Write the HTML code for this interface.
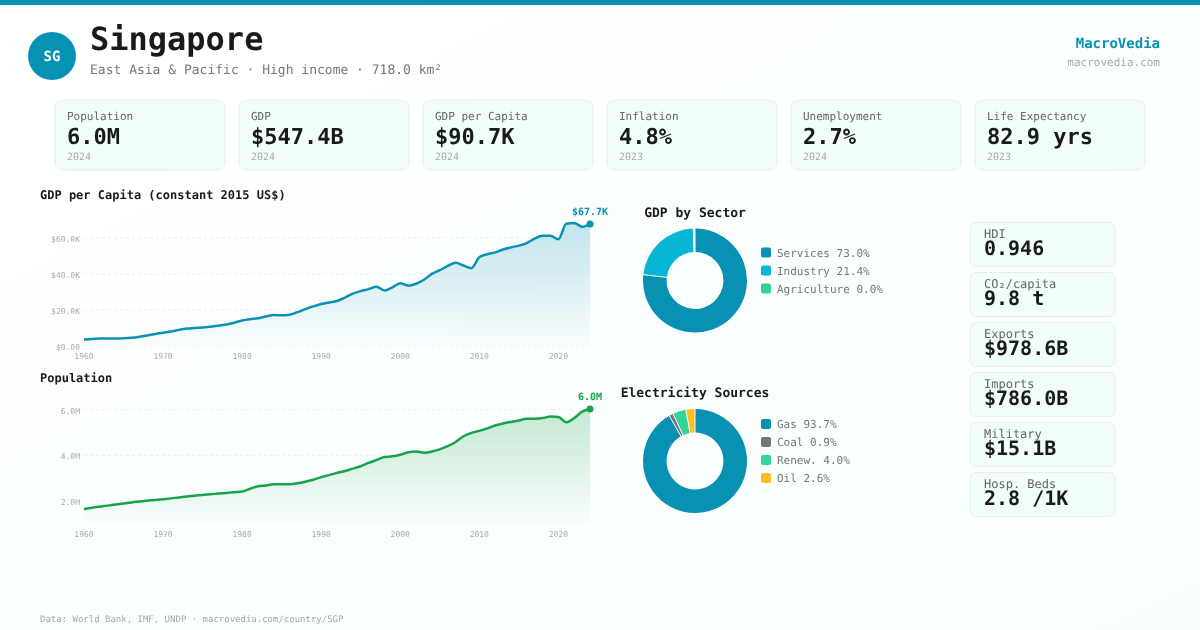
<!DOCTYPE html>
<html lang="en"><head><meta charset="utf-8"><title>Singapore — MacroVedia</title>
<style>
*{margin:0;padding:0;box-sizing:border-box}
html,body{width:1200px;height:630px;overflow:hidden}
body{font-family:"DejaVu Sans Mono","Liberation Mono",monospace;background:linear-gradient(to bottom right,#ffffff 0%,#f8fefe 100%);color:#1a1a1a}
svg{display:block;position:absolute;left:0;top:0}
svg text{font-family:"DejaVu Sans Mono","Liberation Mono",monospace;text-rendering:geometricPrecision;white-space:pre}
</style></head><body>
<svg width="1200" height="630" viewBox="0 0 1200 630">
<rect x="0" y="0" width="1200" height="5" fill="#0891b2"/>
<circle cx="52" cy="56" r="24" fill="#0891b2"/>
<text x="52" y="61" font-size="14" fill="#ffffff" font-weight="bold" text-anchor="middle">SG</text>
<text x="90" y="50" font-size="32" fill="#1a1a1a" font-weight="bold">Singapore</text>
<text x="90" y="74" font-size="13" fill="#777">East Asia &amp; Pacific · High income · 718.0 km²</text>
<text x="1160" y="48" font-size="14" fill="#0891b2" font-weight="bold" text-anchor="end">MacroVedia</text>
<text x="1160" y="66" font-size="11" fill="#a8a8a8" text-anchor="end">macrovedia.com</text>
<rect x="55" y="100" width="170" height="70" rx="8" fill="#f0fdfa" stroke="#e9eded" stroke-width="1"/>
<text x="67" y="120" font-size="11" fill="#666">Population</text>
<text x="67" y="144" font-size="22" fill="#1a1a1a" font-weight="bold">6.0M</text>
<text x="67" y="160" font-size="10" fill="#aaa">2024</text>
<rect x="239" y="100" width="170" height="70" rx="8" fill="#f0fdfa" stroke="#e9eded" stroke-width="1"/>
<text x="251" y="120" font-size="11" fill="#666">GDP</text>
<text x="251" y="144" font-size="22" fill="#1a1a1a" font-weight="bold">$547.4B</text>
<text x="251" y="160" font-size="10" fill="#aaa">2024</text>
<rect x="423" y="100" width="170" height="70" rx="8" fill="#f0fdfa" stroke="#e9eded" stroke-width="1"/>
<text x="435" y="120" font-size="11" fill="#666">GDP per Capita</text>
<text x="435" y="144" font-size="22" fill="#1a1a1a" font-weight="bold">$90.7K</text>
<text x="435" y="160" font-size="10" fill="#aaa">2024</text>
<rect x="607" y="100" width="170" height="70" rx="8" fill="#f0fdfa" stroke="#e9eded" stroke-width="1"/>
<text x="619" y="120" font-size="11" fill="#666">Inflation</text>
<text x="619" y="144" font-size="22" fill="#1a1a1a" font-weight="bold">4.8%</text>
<text x="619" y="160" font-size="10" fill="#aaa">2023</text>
<rect x="791" y="100" width="170" height="70" rx="8" fill="#f0fdfa" stroke="#e9eded" stroke-width="1"/>
<text x="803" y="120" font-size="11" fill="#666">Unemployment</text>
<text x="803" y="144" font-size="22" fill="#1a1a1a" font-weight="bold">2.7%</text>
<text x="803" y="160" font-size="10" fill="#aaa">2024</text>
<rect x="975" y="100" width="170" height="70" rx="8" fill="#f0fdfa" stroke="#e9eded" stroke-width="1"/>
<text x="987" y="120" font-size="11" fill="#666">Life Expectancy</text>
<text x="987" y="144" font-size="22" fill="#1a1a1a" font-weight="bold">82.9 yrs</text>
<text x="987" y="160" font-size="10" fill="#aaa">2023</text>
<text x="40" y="199" font-size="12" fill="#1a1a1a" font-weight="bold">GDP per Capita (constant 2015 US$)</text>
<text x="40" y="382" font-size="12" fill="#1a1a1a" font-weight="bold">Population</text>
<defs><linearGradient id="ga" x1="0" y1="0" x2="0" y2="1"><stop offset="0" stop-color="#0891b2" stop-opacity="0.24"/><stop offset="1" stop-color="#0891b2" stop-opacity="0.01"/></linearGradient></defs>
<line x1="84" y1="238" x2="590" y2="238" stroke="#ebebeb" stroke-width="1" stroke-dasharray="3 3"/>
<text x="80" y="242" font-size="8" fill="#a8a8a8" text-anchor="end">$60.0K</text>
<line x1="84" y1="274" x2="590" y2="274" stroke="#ebebeb" stroke-width="1" stroke-dasharray="3 3"/>
<text x="80" y="278" font-size="8" fill="#a8a8a8" text-anchor="end">$40.0K</text>
<line x1="84" y1="310" x2="590" y2="310" stroke="#ebebeb" stroke-width="1" stroke-dasharray="3 3"/>
<text x="80" y="314" font-size="8" fill="#a8a8a8" text-anchor="end">$20.0K</text>
<line x1="84" y1="346" x2="590" y2="346" stroke="#ebebeb" stroke-width="1" stroke-dasharray="3 3"/>
<text x="80" y="350" font-size="8" fill="#a8a8a8" text-anchor="end">$0.00</text>
<path d="M84.00,339.39C86.64,339.26 89.27,339.13 91.91,339.00C94.54,338.87 97.18,338.70 99.81,338.60C102.45,338.51 105.08,338.42 107.72,338.42C110.35,338.42 112.99,338.62 115.62,338.62C118.26,338.62 120.90,338.51 123.53,338.37C126.17,338.22 128.80,338.03 131.44,337.76C134.07,337.48 136.71,337.09 139.34,336.69C141.98,336.30 144.61,335.85 147.25,335.40C149.89,334.95 152.52,334.44 155.16,333.99C157.79,333.54 160.43,333.11 163.06,332.70C165.70,332.28 168.33,331.98 170.97,331.51C173.60,331.04 176.24,330.38 178.88,329.89C181.51,329.40 184.15,328.89 186.78,328.59C189.42,328.29 192.05,328.27 194.69,328.09C197.32,327.91 199.96,327.73 202.59,327.50C205.23,327.26 207.86,326.96 210.50,326.67C213.14,326.38 215.77,326.11 218.41,325.75C221.04,325.39 223.68,325.02 226.31,324.51C228.95,324.00 231.58,323.35 234.22,322.67C236.85,321.99 239.49,321.02 242.12,320.44C244.76,319.86 247.40,319.53 250.03,319.18C252.67,318.83 255.30,318.78 257.94,318.33C260.57,317.88 263.21,317.03 265.84,316.48C268.48,315.93 271.11,315.04 273.75,315.04C276.39,315.04 279.02,315.22 281.66,315.22C284.29,315.22 286.93,315.04 289.56,314.68C292.20,314.32 294.83,313.09 297.47,312.16C300.10,311.23 302.74,310.06 305.38,309.10C308.01,308.14 310.65,307.24 313.28,306.40C315.92,305.56 318.55,304.72 321.19,304.06C323.82,303.40 326.46,302.95 329.09,302.44C331.73,301.93 334.36,301.81 337.00,301.00C339.64,300.19 342.27,298.79 344.91,297.58C347.54,296.37 350.18,294.79 352.81,293.71C355.45,292.63 358.08,291.87 360.72,291.10C363.35,290.34 365.99,289.84 368.62,289.12C371.26,288.40 373.90,286.78 376.53,286.78C379.17,286.78 381.80,290.38 384.44,290.38C387.07,290.38 389.71,288.52 392.34,287.32C394.98,286.12 397.61,283.18 400.25,283.18C402.89,283.18 405.52,285.70 408.16,285.70C410.79,285.70 413.43,284.71 416.06,283.72C418.70,282.73 421.33,281.41 423.97,279.76C426.60,278.11 429.24,275.41 431.88,273.82C434.51,272.23 437.15,271.53 439.78,270.22C442.42,268.92 445.05,267.22 447.69,265.99C450.32,264.76 452.96,262.84 455.59,262.84C458.23,262.84 460.86,264.64 463.50,265.54C466.14,266.44 468.77,268.24 471.41,268.24C474.04,268.24 476.68,259.30 479.31,257.26C481.95,255.22 484.58,255.01 487.22,254.20C489.85,253.39 492.49,253.18 495.12,252.40C497.76,251.62 500.40,250.36 503.03,249.52C505.67,248.68 508.30,248.01 510.94,247.36C513.57,246.72 516.21,246.37 518.84,245.65C521.48,244.93 524.11,244.21 526.75,243.04C529.39,241.87 532.02,239.83 534.66,238.63C537.29,237.43 539.93,235.84 542.56,235.84C545.20,235.84 547.83,235.84 550.47,235.84C553.10,235.84 555.74,239.26 558.38,239.26C561.01,239.26 563.65,224.38 566.28,223.78C568.92,223.18 571.55,222.88 574.19,222.88C576.82,222.88 579.46,226.84 582.09,226.84C584.73,226.84 587.36,225.49 590.00,224.14L590.00,346.00 L84.00,346.00 Z" fill="#fcfefe" fill-opacity="0.6"/>
<path d="M84.00,339.39C86.64,339.26 89.27,339.13 91.91,339.00C94.54,338.87 97.18,338.70 99.81,338.60C102.45,338.51 105.08,338.42 107.72,338.42C110.35,338.42 112.99,338.62 115.62,338.62C118.26,338.62 120.90,338.51 123.53,338.37C126.17,338.22 128.80,338.03 131.44,337.76C134.07,337.48 136.71,337.09 139.34,336.69C141.98,336.30 144.61,335.85 147.25,335.40C149.89,334.95 152.52,334.44 155.16,333.99C157.79,333.54 160.43,333.11 163.06,332.70C165.70,332.28 168.33,331.98 170.97,331.51C173.60,331.04 176.24,330.38 178.88,329.89C181.51,329.40 184.15,328.89 186.78,328.59C189.42,328.29 192.05,328.27 194.69,328.09C197.32,327.91 199.96,327.73 202.59,327.50C205.23,327.26 207.86,326.96 210.50,326.67C213.14,326.38 215.77,326.11 218.41,325.75C221.04,325.39 223.68,325.02 226.31,324.51C228.95,324.00 231.58,323.35 234.22,322.67C236.85,321.99 239.49,321.02 242.12,320.44C244.76,319.86 247.40,319.53 250.03,319.18C252.67,318.83 255.30,318.78 257.94,318.33C260.57,317.88 263.21,317.03 265.84,316.48C268.48,315.93 271.11,315.04 273.75,315.04C276.39,315.04 279.02,315.22 281.66,315.22C284.29,315.22 286.93,315.04 289.56,314.68C292.20,314.32 294.83,313.09 297.47,312.16C300.10,311.23 302.74,310.06 305.38,309.10C308.01,308.14 310.65,307.24 313.28,306.40C315.92,305.56 318.55,304.72 321.19,304.06C323.82,303.40 326.46,302.95 329.09,302.44C331.73,301.93 334.36,301.81 337.00,301.00C339.64,300.19 342.27,298.79 344.91,297.58C347.54,296.37 350.18,294.79 352.81,293.71C355.45,292.63 358.08,291.87 360.72,291.10C363.35,290.34 365.99,289.84 368.62,289.12C371.26,288.40 373.90,286.78 376.53,286.78C379.17,286.78 381.80,290.38 384.44,290.38C387.07,290.38 389.71,288.52 392.34,287.32C394.98,286.12 397.61,283.18 400.25,283.18C402.89,283.18 405.52,285.70 408.16,285.70C410.79,285.70 413.43,284.71 416.06,283.72C418.70,282.73 421.33,281.41 423.97,279.76C426.60,278.11 429.24,275.41 431.88,273.82C434.51,272.23 437.15,271.53 439.78,270.22C442.42,268.92 445.05,267.22 447.69,265.99C450.32,264.76 452.96,262.84 455.59,262.84C458.23,262.84 460.86,264.64 463.50,265.54C466.14,266.44 468.77,268.24 471.41,268.24C474.04,268.24 476.68,259.30 479.31,257.26C481.95,255.22 484.58,255.01 487.22,254.20C489.85,253.39 492.49,253.18 495.12,252.40C497.76,251.62 500.40,250.36 503.03,249.52C505.67,248.68 508.30,248.01 510.94,247.36C513.57,246.72 516.21,246.37 518.84,245.65C521.48,244.93 524.11,244.21 526.75,243.04C529.39,241.87 532.02,239.83 534.66,238.63C537.29,237.43 539.93,235.84 542.56,235.84C545.20,235.84 547.83,235.84 550.47,235.84C553.10,235.84 555.74,239.26 558.38,239.26C561.01,239.26 563.65,224.38 566.28,223.78C568.92,223.18 571.55,222.88 574.19,222.88C576.82,222.88 579.46,226.84 582.09,226.84C584.73,226.84 587.36,225.49 590.00,224.14L590.00,346.00 L84.00,346.00 Z" fill="url(#ga)"/>
<path d="M84.00,339.39C86.64,339.26 89.27,339.13 91.91,339.00C94.54,338.87 97.18,338.70 99.81,338.60C102.45,338.51 105.08,338.42 107.72,338.42C110.35,338.42 112.99,338.62 115.62,338.62C118.26,338.62 120.90,338.51 123.53,338.37C126.17,338.22 128.80,338.03 131.44,337.76C134.07,337.48 136.71,337.09 139.34,336.69C141.98,336.30 144.61,335.85 147.25,335.40C149.89,334.95 152.52,334.44 155.16,333.99C157.79,333.54 160.43,333.11 163.06,332.70C165.70,332.28 168.33,331.98 170.97,331.51C173.60,331.04 176.24,330.38 178.88,329.89C181.51,329.40 184.15,328.89 186.78,328.59C189.42,328.29 192.05,328.27 194.69,328.09C197.32,327.91 199.96,327.73 202.59,327.50C205.23,327.26 207.86,326.96 210.50,326.67C213.14,326.38 215.77,326.11 218.41,325.75C221.04,325.39 223.68,325.02 226.31,324.51C228.95,324.00 231.58,323.35 234.22,322.67C236.85,321.99 239.49,321.02 242.12,320.44C244.76,319.86 247.40,319.53 250.03,319.18C252.67,318.83 255.30,318.78 257.94,318.33C260.57,317.88 263.21,317.03 265.84,316.48C268.48,315.93 271.11,315.04 273.75,315.04C276.39,315.04 279.02,315.22 281.66,315.22C284.29,315.22 286.93,315.04 289.56,314.68C292.20,314.32 294.83,313.09 297.47,312.16C300.10,311.23 302.74,310.06 305.38,309.10C308.01,308.14 310.65,307.24 313.28,306.40C315.92,305.56 318.55,304.72 321.19,304.06C323.82,303.40 326.46,302.95 329.09,302.44C331.73,301.93 334.36,301.81 337.00,301.00C339.64,300.19 342.27,298.79 344.91,297.58C347.54,296.37 350.18,294.79 352.81,293.71C355.45,292.63 358.08,291.87 360.72,291.10C363.35,290.34 365.99,289.84 368.62,289.12C371.26,288.40 373.90,286.78 376.53,286.78C379.17,286.78 381.80,290.38 384.44,290.38C387.07,290.38 389.71,288.52 392.34,287.32C394.98,286.12 397.61,283.18 400.25,283.18C402.89,283.18 405.52,285.70 408.16,285.70C410.79,285.70 413.43,284.71 416.06,283.72C418.70,282.73 421.33,281.41 423.97,279.76C426.60,278.11 429.24,275.41 431.88,273.82C434.51,272.23 437.15,271.53 439.78,270.22C442.42,268.92 445.05,267.22 447.69,265.99C450.32,264.76 452.96,262.84 455.59,262.84C458.23,262.84 460.86,264.64 463.50,265.54C466.14,266.44 468.77,268.24 471.41,268.24C474.04,268.24 476.68,259.30 479.31,257.26C481.95,255.22 484.58,255.01 487.22,254.20C489.85,253.39 492.49,253.18 495.12,252.40C497.76,251.62 500.40,250.36 503.03,249.52C505.67,248.68 508.30,248.01 510.94,247.36C513.57,246.72 516.21,246.37 518.84,245.65C521.48,244.93 524.11,244.21 526.75,243.04C529.39,241.87 532.02,239.83 534.66,238.63C537.29,237.43 539.93,235.84 542.56,235.84C545.20,235.84 547.83,235.84 550.47,235.84C553.10,235.84 555.74,239.26 558.38,239.26C561.01,239.26 563.65,224.38 566.28,223.78C568.92,223.18 571.55,222.88 574.19,222.88C576.82,222.88 579.46,226.84 582.09,226.84C584.73,226.84 587.36,225.49 590.00,224.14" fill="none" stroke="#0891b2" stroke-width="2.5" stroke-linejoin="round"/>
<text x="84" y="359" font-size="8" fill="#a8a8a8" text-anchor="middle">1960</text>
<text x="163.06" y="359" font-size="8" fill="#a8a8a8" text-anchor="middle">1970</text>
<text x="242.12" y="359" font-size="8" fill="#a8a8a8" text-anchor="middle">1980</text>
<text x="321.19" y="359" font-size="8" fill="#a8a8a8" text-anchor="middle">1990</text>
<text x="400.25" y="359" font-size="8" fill="#a8a8a8" text-anchor="middle">2000</text>
<text x="479.31" y="359" font-size="8" fill="#a8a8a8" text-anchor="middle">2010</text>
<text x="558.38" y="359" font-size="8" fill="#a8a8a8" text-anchor="middle">2020</text>
<circle cx="590.0" cy="224.1" r="3.5" fill="#0891b2"/>
<text x="590" y="215" font-size="10" fill="#0891b2" font-weight="bold" text-anchor="middle">$67.7K</text>
<defs><linearGradient id="gb" x1="0" y1="0" x2="0" y2="1"><stop offset="0" stop-color="#16a34a" stop-opacity="0.24"/><stop offset="1" stop-color="#16a34a" stop-opacity="0.01"/></linearGradient></defs>
<line x1="84" y1="409.8" x2="590" y2="409.8" stroke="#eeeeee" stroke-width="1" stroke-dasharray="3 3"/>
<text x="80" y="414" font-size="8" fill="#a8a8a8" text-anchor="end">6.0M</text>
<line x1="84" y1="455.4" x2="590" y2="455.4" stroke="#eeeeee" stroke-width="1" stroke-dasharray="3 3"/>
<text x="80" y="459" font-size="8" fill="#a8a8a8" text-anchor="end">4.0M</text>
<line x1="84" y1="501" x2="590" y2="501" stroke="#eeeeee" stroke-width="1" stroke-dasharray="3 3"/>
<text x="80" y="505" font-size="8" fill="#a8a8a8" text-anchor="end">2.0M</text>
<path d="M84.00,509.00C86.64,508.56 89.27,508.12 91.91,507.73C94.54,507.33 97.18,506.99 99.81,506.64C102.45,506.29 105.08,505.96 107.72,505.62C110.35,505.27 112.99,504.90 115.62,504.55C118.26,504.21 120.90,503.88 123.53,503.52C126.17,503.17 128.80,502.79 131.44,502.44C134.07,502.10 136.71,501.75 139.34,501.46C141.98,501.16 144.61,500.92 147.25,500.67C149.89,500.43 152.52,500.22 155.16,499.98C157.79,499.74 160.43,499.52 163.06,499.25C165.70,498.98 168.33,498.67 170.97,498.37C173.60,498.08 176.24,497.78 178.88,497.47C181.51,497.17 184.15,496.84 186.78,496.55C189.42,496.26 192.05,495.98 194.69,495.71C197.32,495.45 199.96,495.21 202.59,494.96C205.23,494.72 207.86,494.50 210.50,494.27C213.14,494.03 215.77,493.77 218.41,493.54C221.04,493.31 223.68,493.11 226.31,492.89C228.95,492.67 231.58,492.44 234.22,492.21C236.85,491.98 239.49,491.98 242.12,491.52C244.76,491.06 247.40,489.69 250.03,488.81C252.67,487.93 255.30,486.74 257.94,486.22C260.57,485.69 263.21,485.76 265.84,485.43C268.48,485.11 271.11,484.32 273.75,484.27C276.39,484.21 279.02,484.18 281.66,484.18C284.29,484.18 286.93,484.24 289.56,484.24C292.20,484.24 294.83,483.72 297.47,483.30C300.10,482.87 302.74,482.27 305.38,481.67C308.01,481.08 310.65,480.50 313.28,479.74C315.92,478.98 318.55,477.87 321.19,477.09C323.82,476.32 326.46,475.79 329.09,475.09C331.73,474.39 334.36,473.59 337.00,472.91C339.64,472.23 342.27,471.74 344.91,471.03C347.54,470.31 350.18,469.42 352.81,468.62C355.45,467.82 358.08,467.17 360.72,466.22C363.35,465.26 365.99,463.92 368.62,462.89C371.26,461.86 373.90,461.01 376.53,460.03C379.17,459.06 381.80,457.52 384.44,457.05C387.07,456.57 389.71,456.71 392.34,456.33C394.98,455.95 397.61,455.43 400.25,454.75C402.89,454.07 405.52,452.81 408.16,452.24C410.79,451.68 413.43,451.38 416.06,451.38C418.70,451.38 421.33,452.77 423.97,452.77C426.60,452.77 429.24,452.16 431.88,451.59C434.51,451.02 437.15,450.22 439.78,449.33C442.42,448.44 445.05,447.47 447.69,446.24C450.32,445.02 452.96,443.64 455.59,441.98C458.23,440.32 460.86,437.78 463.50,436.27C466.14,434.75 468.77,433.79 471.41,432.89C474.04,431.99 476.68,431.60 479.31,430.86C481.95,430.11 484.58,429.32 487.22,428.42C489.85,427.53 492.49,426.31 495.12,425.49C497.76,424.67 500.40,424.11 503.03,423.51C505.67,422.92 508.30,422.42 510.94,421.91C513.57,421.39 516.21,420.94 518.84,420.42C521.48,419.90 524.11,418.85 526.75,418.77C529.39,418.70 532.02,418.73 534.66,418.66C537.29,418.58 539.93,418.40 542.56,418.06C545.20,417.71 547.83,416.58 550.47,416.58C553.10,416.58 555.74,416.71 558.38,416.98C561.01,417.25 563.65,422.27 566.28,422.27C568.92,422.27 571.55,419.86 574.19,418.10C576.82,416.33 579.46,413.22 582.09,411.70C584.73,410.19 587.36,409.59 590.00,408.99L590.00,524.00 L84.00,524.00 Z" fill="#fcfefe" fill-opacity="0.6"/>
<path d="M84.00,509.00C86.64,508.56 89.27,508.12 91.91,507.73C94.54,507.33 97.18,506.99 99.81,506.64C102.45,506.29 105.08,505.96 107.72,505.62C110.35,505.27 112.99,504.90 115.62,504.55C118.26,504.21 120.90,503.88 123.53,503.52C126.17,503.17 128.80,502.79 131.44,502.44C134.07,502.10 136.71,501.75 139.34,501.46C141.98,501.16 144.61,500.92 147.25,500.67C149.89,500.43 152.52,500.22 155.16,499.98C157.79,499.74 160.43,499.52 163.06,499.25C165.70,498.98 168.33,498.67 170.97,498.37C173.60,498.08 176.24,497.78 178.88,497.47C181.51,497.17 184.15,496.84 186.78,496.55C189.42,496.26 192.05,495.98 194.69,495.71C197.32,495.45 199.96,495.21 202.59,494.96C205.23,494.72 207.86,494.50 210.50,494.27C213.14,494.03 215.77,493.77 218.41,493.54C221.04,493.31 223.68,493.11 226.31,492.89C228.95,492.67 231.58,492.44 234.22,492.21C236.85,491.98 239.49,491.98 242.12,491.52C244.76,491.06 247.40,489.69 250.03,488.81C252.67,487.93 255.30,486.74 257.94,486.22C260.57,485.69 263.21,485.76 265.84,485.43C268.48,485.11 271.11,484.32 273.75,484.27C276.39,484.21 279.02,484.18 281.66,484.18C284.29,484.18 286.93,484.24 289.56,484.24C292.20,484.24 294.83,483.72 297.47,483.30C300.10,482.87 302.74,482.27 305.38,481.67C308.01,481.08 310.65,480.50 313.28,479.74C315.92,478.98 318.55,477.87 321.19,477.09C323.82,476.32 326.46,475.79 329.09,475.09C331.73,474.39 334.36,473.59 337.00,472.91C339.64,472.23 342.27,471.74 344.91,471.03C347.54,470.31 350.18,469.42 352.81,468.62C355.45,467.82 358.08,467.17 360.72,466.22C363.35,465.26 365.99,463.92 368.62,462.89C371.26,461.86 373.90,461.01 376.53,460.03C379.17,459.06 381.80,457.52 384.44,457.05C387.07,456.57 389.71,456.71 392.34,456.33C394.98,455.95 397.61,455.43 400.25,454.75C402.89,454.07 405.52,452.81 408.16,452.24C410.79,451.68 413.43,451.38 416.06,451.38C418.70,451.38 421.33,452.77 423.97,452.77C426.60,452.77 429.24,452.16 431.88,451.59C434.51,451.02 437.15,450.22 439.78,449.33C442.42,448.44 445.05,447.47 447.69,446.24C450.32,445.02 452.96,443.64 455.59,441.98C458.23,440.32 460.86,437.78 463.50,436.27C466.14,434.75 468.77,433.79 471.41,432.89C474.04,431.99 476.68,431.60 479.31,430.86C481.95,430.11 484.58,429.32 487.22,428.42C489.85,427.53 492.49,426.31 495.12,425.49C497.76,424.67 500.40,424.11 503.03,423.51C505.67,422.92 508.30,422.42 510.94,421.91C513.57,421.39 516.21,420.94 518.84,420.42C521.48,419.90 524.11,418.85 526.75,418.77C529.39,418.70 532.02,418.73 534.66,418.66C537.29,418.58 539.93,418.40 542.56,418.06C545.20,417.71 547.83,416.58 550.47,416.58C553.10,416.58 555.74,416.71 558.38,416.98C561.01,417.25 563.65,422.27 566.28,422.27C568.92,422.27 571.55,419.86 574.19,418.10C576.82,416.33 579.46,413.22 582.09,411.70C584.73,410.19 587.36,409.59 590.00,408.99L590.00,524.00 L84.00,524.00 Z" fill="url(#gb)"/>
<path d="M84.00,509.00C86.64,508.56 89.27,508.12 91.91,507.73C94.54,507.33 97.18,506.99 99.81,506.64C102.45,506.29 105.08,505.96 107.72,505.62C110.35,505.27 112.99,504.90 115.62,504.55C118.26,504.21 120.90,503.88 123.53,503.52C126.17,503.17 128.80,502.79 131.44,502.44C134.07,502.10 136.71,501.75 139.34,501.46C141.98,501.16 144.61,500.92 147.25,500.67C149.89,500.43 152.52,500.22 155.16,499.98C157.79,499.74 160.43,499.52 163.06,499.25C165.70,498.98 168.33,498.67 170.97,498.37C173.60,498.08 176.24,497.78 178.88,497.47C181.51,497.17 184.15,496.84 186.78,496.55C189.42,496.26 192.05,495.98 194.69,495.71C197.32,495.45 199.96,495.21 202.59,494.96C205.23,494.72 207.86,494.50 210.50,494.27C213.14,494.03 215.77,493.77 218.41,493.54C221.04,493.31 223.68,493.11 226.31,492.89C228.95,492.67 231.58,492.44 234.22,492.21C236.85,491.98 239.49,491.98 242.12,491.52C244.76,491.06 247.40,489.69 250.03,488.81C252.67,487.93 255.30,486.74 257.94,486.22C260.57,485.69 263.21,485.76 265.84,485.43C268.48,485.11 271.11,484.32 273.75,484.27C276.39,484.21 279.02,484.18 281.66,484.18C284.29,484.18 286.93,484.24 289.56,484.24C292.20,484.24 294.83,483.72 297.47,483.30C300.10,482.87 302.74,482.27 305.38,481.67C308.01,481.08 310.65,480.50 313.28,479.74C315.92,478.98 318.55,477.87 321.19,477.09C323.82,476.32 326.46,475.79 329.09,475.09C331.73,474.39 334.36,473.59 337.00,472.91C339.64,472.23 342.27,471.74 344.91,471.03C347.54,470.31 350.18,469.42 352.81,468.62C355.45,467.82 358.08,467.17 360.72,466.22C363.35,465.26 365.99,463.92 368.62,462.89C371.26,461.86 373.90,461.01 376.53,460.03C379.17,459.06 381.80,457.52 384.44,457.05C387.07,456.57 389.71,456.71 392.34,456.33C394.98,455.95 397.61,455.43 400.25,454.75C402.89,454.07 405.52,452.81 408.16,452.24C410.79,451.68 413.43,451.38 416.06,451.38C418.70,451.38 421.33,452.77 423.97,452.77C426.60,452.77 429.24,452.16 431.88,451.59C434.51,451.02 437.15,450.22 439.78,449.33C442.42,448.44 445.05,447.47 447.69,446.24C450.32,445.02 452.96,443.64 455.59,441.98C458.23,440.32 460.86,437.78 463.50,436.27C466.14,434.75 468.77,433.79 471.41,432.89C474.04,431.99 476.68,431.60 479.31,430.86C481.95,430.11 484.58,429.32 487.22,428.42C489.85,427.53 492.49,426.31 495.12,425.49C497.76,424.67 500.40,424.11 503.03,423.51C505.67,422.92 508.30,422.42 510.94,421.91C513.57,421.39 516.21,420.94 518.84,420.42C521.48,419.90 524.11,418.85 526.75,418.77C529.39,418.70 532.02,418.73 534.66,418.66C537.29,418.58 539.93,418.40 542.56,418.06C545.20,417.71 547.83,416.58 550.47,416.58C553.10,416.58 555.74,416.71 558.38,416.98C561.01,417.25 563.65,422.27 566.28,422.27C568.92,422.27 571.55,419.86 574.19,418.10C576.82,416.33 579.46,413.22 582.09,411.70C584.73,410.19 587.36,409.59 590.00,408.99" fill="none" stroke="#16a34a" stroke-width="2.5" stroke-linejoin="round"/>
<text x="84" y="537" font-size="8" fill="#a8a8a8" text-anchor="middle">1960</text>
<text x="163.06" y="537" font-size="8" fill="#a8a8a8" text-anchor="middle">1970</text>
<text x="242.12" y="537" font-size="8" fill="#a8a8a8" text-anchor="middle">1980</text>
<text x="321.19" y="537" font-size="8" fill="#a8a8a8" text-anchor="middle">1990</text>
<text x="400.25" y="537" font-size="8" fill="#a8a8a8" text-anchor="middle">2000</text>
<text x="479.31" y="537" font-size="8" fill="#a8a8a8" text-anchor="middle">2010</text>
<text x="558.38" y="537" font-size="8" fill="#a8a8a8" text-anchor="middle">2020</text>
<circle cx="590.0" cy="409.0" r="3.5" fill="#16a34a"/>
<text x="590" y="400" font-size="10" fill="#16a34a" font-weight="bold" text-anchor="middle">6.0M</text>
<text x="695" y="217" font-size="13" fill="#1a1a1a" font-weight="bold" text-anchor="middle">GDP by Sector</text>
<text x="695" y="397" font-size="13" fill="#1a1a1a" font-weight="bold" text-anchor="middle">Electricity Sources</text>
<path d="M695.00,228.50 A52,52 0 1 1 643.32,274.70 L666.78,277.33 A28.4,28.4 0 1 0 695.00,252.10 Z" fill="#0891b2"/>
<path d="M643.32,274.70 A52,52 0 0 1 693.28,228.53 L694.06,252.12 A28.4,28.4 0 0 0 666.78,277.33 Z" fill="#06b6d4"/>
<line x1="695.00" y1="253.10" x2="695.00" y2="227.50" stroke="#fdffff" stroke-width="1"/>
<line x1="667.77" y1="277.45" x2="642.33" y2="274.59" stroke="#fdffff" stroke-width="1"/>
<line x1="694.09" y1="253.12" x2="693.24" y2="227.53" stroke="#fdffff" stroke-width="1"/>
<path d="M695.00,409.00 A52,52 0 1 1 669.32,415.79 L680.97,436.31 A28.4,28.4 0 1 0 695.00,432.60 Z" fill="#0891b2"/>
<path d="M669.32,415.79 A52,52 0 0 1 673.02,413.87 L683.00,435.26 A28.4,28.4 0 0 0 680.97,436.31 Z" fill="#757575"/>
<path d="M673.02,413.87 A52,52 0 0 1 685.88,409.81 L690.02,433.04 A28.4,28.4 0 0 0 683.00,435.26 Z" fill="#34d399"/>
<path d="M685.88,409.81 A52,52 0 0 1 695.00,409.00 L695.00,432.60 A28.4,28.4 0 0 0 690.02,433.04 Z" fill="#fbbf24"/>
<line x1="695.00" y1="433.60" x2="695.00" y2="408.00" stroke="#fdffff" stroke-width="1"/>
<line x1="681.47" y1="437.18" x2="668.82" y2="414.92" stroke="#fdffff" stroke-width="1"/>
<line x1="683.42" y1="436.17" x2="672.60" y2="412.97" stroke="#fdffff" stroke-width="1"/>
<line x1="690.19" y1="434.02" x2="685.71" y2="408.82" stroke="#fdffff" stroke-width="1"/>
<rect x="761" y="247.5" width="10" height="10" rx="2" fill="#0891b2"/>
<text x="777" y="257" font-size="11" fill="#777">Services 73.0%</text>
<rect x="761" y="265.5" width="10" height="10" rx="2" fill="#06b6d4"/>
<text x="777" y="275" font-size="11" fill="#777">Industry 21.4%</text>
<rect x="761" y="283.5" width="10" height="10" rx="2" fill="#34d399"/>
<text x="777" y="293" font-size="11" fill="#777">Agriculture 0.0%</text>
<rect x="761" y="419" width="10" height="10" rx="2" fill="#0891b2"/>
<text x="777" y="428" font-size="11" fill="#777">Gas 93.7%</text>
<rect x="761" y="437" width="10" height="10" rx="2" fill="#757575"/>
<text x="777" y="446" font-size="11" fill="#777">Coal 0.9%</text>
<rect x="761" y="455" width="10" height="10" rx="2" fill="#34d399"/>
<text x="777" y="464" font-size="11" fill="#777">Renew. 4.0%</text>
<rect x="761" y="473" width="10" height="10" rx="2" fill="#fbbf24"/>
<text x="777" y="482" font-size="11" fill="#777">Oil 2.6%</text>
<rect x="970" y="222.5" width="145" height="44" rx="6" fill="#f0fdfa" stroke="#e9eded" stroke-width="1"/>
<text x="984" y="238" font-size="12" fill="#666">HDI</text>
<text x="984" y="255" font-size="20" fill="#1a1a1a" font-weight="bold">0.946</text>
<rect x="970" y="272.5" width="145" height="44" rx="6" fill="#f0fdfa" stroke="#e9eded" stroke-width="1"/>
<text x="984" y="288" font-size="12" fill="#666">CO₂/capita</text>
<text x="984" y="305" font-size="20" fill="#1a1a1a" font-weight="bold">9.8 t</text>
<rect x="970" y="322.5" width="145" height="44" rx="6" fill="#f0fdfa" stroke="#e9eded" stroke-width="1"/>
<text x="984" y="338" font-size="12" fill="#666">Exports</text>
<text x="984" y="355" font-size="20" fill="#1a1a1a" font-weight="bold">$978.6B</text>
<rect x="970" y="372.5" width="145" height="44" rx="6" fill="#f0fdfa" stroke="#e9eded" stroke-width="1"/>
<text x="984" y="388" font-size="12" fill="#666">Imports</text>
<text x="984" y="405" font-size="20" fill="#1a1a1a" font-weight="bold">$786.0B</text>
<rect x="970" y="422.5" width="145" height="44" rx="6" fill="#f0fdfa" stroke="#e9eded" stroke-width="1"/>
<text x="984" y="438" font-size="12" fill="#666">Military</text>
<text x="984" y="455" font-size="20" fill="#1a1a1a" font-weight="bold">$15.1B</text>
<rect x="970" y="472.5" width="145" height="44" rx="6" fill="#f0fdfa" stroke="#e9eded" stroke-width="1"/>
<text x="984" y="488" font-size="12" fill="#666">Hosp. Beds</text>
<text x="984" y="505" font-size="20" fill="#1a1a1a" font-weight="bold">2.8 /1K</text>
<text x="40" y="622" font-size="9" fill="#a6a6a6">Data: World Bank, IMF, UNDP · macrovedia.com/country/SGP</text>
</svg>
</body></html>
